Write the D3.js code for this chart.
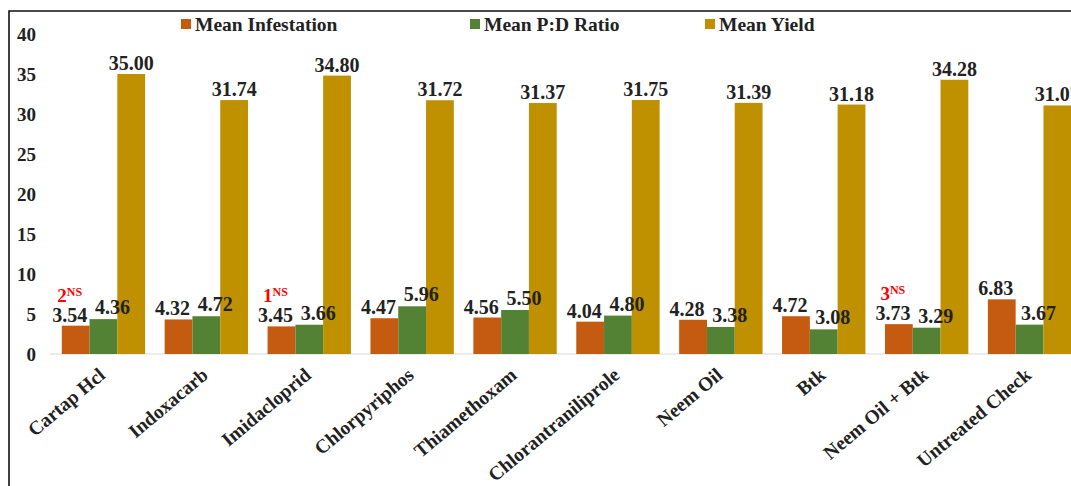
<!DOCTYPE html>
<html>
<head>
<meta charset="utf-8">
<script src="https://cdn.jsdelivr.net/npm/d3@7"></script>
<style>
  html, body { margin: 0; padding: 0; background: #fff; }
  svg { display: block; }
  text { font-family: "Liberation Serif", "Times New Roman", serif; font-weight: bold; }
</style>
</head>
<body>
<script>
// Treatments on the x axis
const categories = ["Cartap Hcl", "Indoxacarb", "Imidacloprid", "Chlorpyriphos", "Thiamethoxam",
  "Chlorantraniliprole", "Neem Oil", "Btk", "Neem Oil + Btk", "Untreated Check"];

// Series values per treatment
const meanInfestation = [3.54, 4.32, 3.45, 4.47, 4.56, 4.04, 4.28, 4.72, 3.73, 6.83];
const meanPDRatio     = [4.36, 4.72, 3.66, 5.96, 5.50, 4.80, 3.38, 3.08, 3.29, 3.67];
const meanYield       = [35.00, 31.74, 34.80, 31.72, 31.37, 31.75, 31.39, 31.18, 34.28, 31.07];

// Rank notes shown above the infestation values (non-significant)
const rankNotes = ["2", "", "1", "", "", "", "", "", "3", ""];

const seriesNames = ["Mean Infestation", "Mean P:D Ratio", "Mean Yield"];
const yTicks = [0, 5, 10, 15, 20, 25, 30, 35, 40];

const colors = { "Mean Infestation": "#C55A11", "Mean P:D Ratio": "#548235", "Mean Yield": "#BF9000" };

const W = 1071, H = 486;
const svg = d3.select("body").append("svg").attr("width", W).attr("height", H);

const rows = categories.map((c, i) => ({
  cat: c,
  note: rankNotes[i],
  vals: [
    { s: seriesNames[0], v: meanInfestation[i] },
    { s: seriesNames[1], v: meanPDRatio[i] },
    { s: seriesNames[2], v: meanYield[i] }
  ]
}));

const x0 = d3.scaleBand().domain(categories).range([52, 1081]).paddingInner(0.19).paddingOuter(0.095);
const x1 = d3.scaleBand().domain(seriesNames).range([0, x0.bandwidth()]);
const y = d3.scaleLinear().domain([0, 40]).range([354, 34]);

// Outer frame (top and left edges)
svg.append("path").attr("d", `M9,${H} L9,11 L${W},11`)
  .attr("fill", "none").attr("stroke", "#111").attr("stroke-width", 1.6);

// Y axis labels
const yAxis = svg.append("g").attr("transform", "translate(45,0)")
  .call(d3.axisLeft(y).tickValues(yTicks).tickSize(0).tickPadding(9).tickFormat(d3.format("d")));
yAxis.select(".domain").remove();
yAxis.selectAll("text").attr("font-size", 19).attr("fill", "#222")
  .style("font-family", "'Liberation Serif', serif").style("font-weight", "bold");

// Baseline
svg.append("line").attr("x1", 50).attr("x2", W).attr("y1", y(0)).attr("y2", y(0))
  .attr("stroke", "#d9d9d9").attr("stroke-width", 1.2);

// X axis labels
const xAxis = svg.append("g").attr("transform", `translate(0,${y(0)})`)
  .call(d3.axisBottom(x0).tickSize(0).tickPadding(0));
xAxis.select(".domain").remove();
xAxis.selectAll("text")
  .attr("font-size", 19.5).attr("fill", "#222")
  .style("font-family", "'Liberation Serif', serif").style("font-weight", "bold")
  .attr("text-anchor", "end")
  .attr("dy", null).attr("y", 0)
  .attr("transform", "translate(3,23) rotate(-40)");

// Bars
const groups = svg.append("g").selectAll("g").data(rows).join("g")
  .attr("transform", d => `translate(${x0(d.cat)},0)`);

groups.selectAll("rect").data(d => d.vals).join("rect")
  .attr("x", d => x1(d.s))
  .attr("width", x1.bandwidth())
  .attr("y", d => y(d.v))
  .attr("height", d => y(0) - y(d.v))
  .attr("fill", d => colors[d.s]);

// Value labels
const labelShift = { "Mean Infestation": -6, "Mean P:D Ratio": 9, "Mean Yield": 0 };
const labelLift = { "Mean Infestation": 4, "Mean P:D Ratio": 5, "Mean Yield": 4 };
groups.selectAll("text.val").data(d => d.vals).join("text")
  .attr("class", "val")
  .attr("x", d => x1(d.s) + x1.bandwidth() / 2 + labelShift[d.s])
  .attr("y", d => y(d.v) - labelLift[d.s])
  .attr("text-anchor", "middle")
  .attr("font-size", 20)
  .attr("fill", "#222")
  .text(d => d.v.toFixed(2));

// Rank notes with NS superscript
const noted = groups.filter(d => d.note !== "");
const noteText = noted.append("text")
  .attr("x", d => x1(seriesNames[0]) + x1.bandwidth() / 2 + labelShift[seriesNames[0]])
  .attr("y", d => y(d.vals[0].v) - labelLift[seriesNames[0]] - 20)
  .attr("text-anchor", "middle")
  .attr("fill", "#FF0000");
noteText.append("tspan").attr("font-size", 19).text(d => d.note);
noteText.append("tspan").attr("font-size", 12).attr("dy", -6).text("NS");

// Legend
const legendX = [181, 470, 705];
const legend = svg.append("g").selectAll("g").data(seriesNames).join("g")
  .attr("transform", (d, i) => `translate(${legendX[i]},24)`);
legend.append("rect").attr("x", 0).attr("y", -5).attr("width", 10).attr("height", 10)
  .attr("fill", d => colors[d]);
legend.append("text").attr("x", 14).attr("y", 6.5).attr("font-size", 19.5).attr("fill", "#222")
  .text(d => d);
</script>
</body>
</html>
